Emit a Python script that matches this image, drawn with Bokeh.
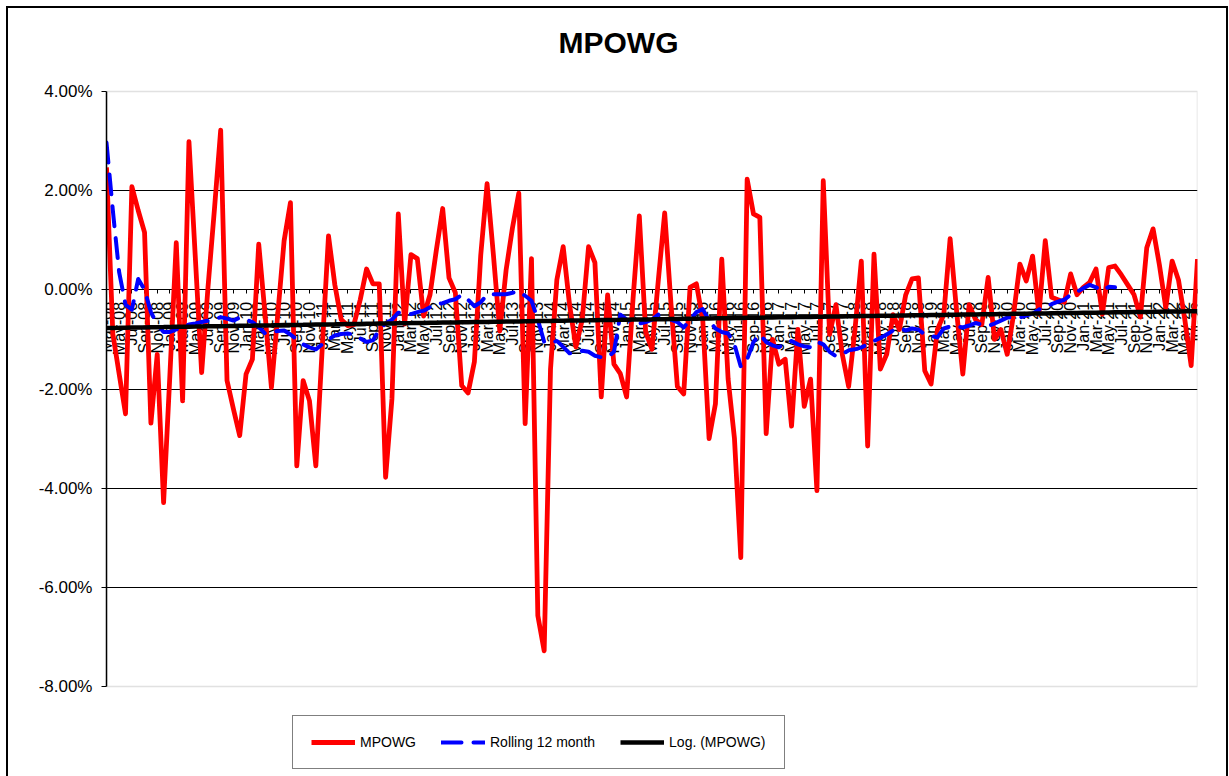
import numpy as np
from datetime import date
from bokeh.plotting import figure
from bokeh.models import (LinearAxis, FixedTicker, PrintfTickFormatter, Legend,
                          LegendItem, Range1d, BoxAnnotation, Label)
from bokeh.embed import file_html
from bokeh.resources import INLINE

# ---------------- data ----------------
MONTH_ABBR = ["Jan", "Feb", "Mar", "Apr", "May", "Jun",
              "Jul", "Aug", "Sep", "Oct", "Nov", "Dec"]
first_year, first_month = 2008, 3      # Mar-08
n_months = 173                          # Mar-08 .. Jul-22
months = []
month_dates = []
for k in range(n_months):
    yy = first_year + (first_month - 1 + k) // 12
    mm = (first_month - 1 + k) % 12 + 1
    months.append(f"{MONTH_ABBR[mm - 1]}-{yy % 100:02d}")
    month_dates.append(date(yy, mm, 1))

# MPOWG monthly values (%)
mpowg = [
    2.47, -0.89, -1.70, -2.50, 2.08, 1.60, 1.16, -2.69, -1.30, -4.29,
    -1.70, 0.95, -2.24, 2.99, 0.66, -1.67, 0.05, 1.60, 3.22, -1.83,
    -2.40, -2.94, -1.70, -1.40, 0.92, -0.50, -1.97, -0.50, 0.99, 1.76,
    -3.55, -1.83, -2.24, -3.55, -1.20, 1.09, 0.10, -0.60, -0.72, -0.70,
    -0.20, 0.42, 0.12, 0.12, -3.78, -2.20, 1.53, -0.69, 0.71, 0.63,
    -0.53, -0.10, 0.80, 1.64, 0.24, -0.06, -1.93, -2.08, -1.45, 0.70,
    2.14, 0.70, -0.83, 0.40, 1.25, 1.95, -2.70, 0.63, -6.57, -7.28,
    -1.60, 0.20, 0.87, -0.30, -1.15, -0.60, 0.87, 0.55, -2.16, -0.10,
    -1.50, -1.69, -2.16, -0.20, 1.49, -0.85, -1.20, 0.20, 1.55, -0.30,
    -1.95, -2.10, 0.05, 0.12, -0.60, -3.00, -2.30, 0.62, -1.80, -3.00,
    -5.40, 2.23, 1.53, 1.46, -2.90, -1.00, -1.50, -1.40, -2.75, -0.80,
    -2.35, -1.80, -4.05, 2.20, -0.90, -0.30, -1.30, -1.95, -0.80, 0.58,
    -3.15, 0.72, -1.60, -1.30, -0.50, -0.80, -0.10, 0.22, 0.24, -1.63,
    -1.90, -0.80, -0.50, 1.03, -0.40, -1.70, -0.30, -0.60, -0.70, 0.25,
    -1.00, -0.80, -1.30, -0.50, 0.52, 0.18, 0.68, -0.49, 0.99, -0.15,
    -0.20, -0.25, 0.32, -0.10, 0.05, 0.15, 0.42, -0.49, 0.45, 0.48,
    0.30, 0.10, -0.10, -0.55, 0.85, 1.23, 0.50, -0.36, 0.58, 0.20,
    -0.60, -1.53, 0.62,
]

# Rolling 12 month (%) - ends earlier than MPOWG
rolling = [
    2.97, 1.60, 0.35, -0.30, -0.40, 0.22, 0.00, -0.45, -0.70, -0.85,
    -0.85, -0.80, -0.75, -0.70, -0.68, -0.65, -0.62, -0.60, -0.55, -0.58,
    -0.62, -0.56, -0.60, -0.65, -0.75, -0.88, -0.85, -0.83, -0.82, -0.90,
    -1.00, -1.10, -1.16, -1.20, -1.10, -1.00, -0.92, -0.89, -0.88, -0.90,
    -0.98, -1.05, -1.02, -0.80, -0.68, -0.60, -0.46, -0.48, -0.49, -0.45,
    -0.42, -0.35, -0.29, -0.27, -0.22, -0.19, -0.10, -0.20, -0.33, -0.25,
    -0.10, -0.09, -0.09, -0.09, -0.06, -0.03, -0.12, -0.22, -0.60, -1.05,
    -1.08, -1.03, -1.15, -1.28, -1.27, -1.23, -1.25, -1.33, -1.36, -1.36,
    -1.25, -0.50, -0.60, -0.65, -0.68, -0.65, -0.60, -0.50, -0.55, -0.60,
    -0.65, -0.76, -0.60, -0.45, -0.39, -0.62, -0.78, -0.85, -0.88, -1.10,
    -1.55, -1.40, -1.05, -0.90, -1.05, -1.12, -1.16, -1.08, -1.03, -1.10,
    -1.14, -1.16, -1.05, -1.10, -1.25, -1.34, -1.30, -1.22, -1.20, -1.16,
    -1.10, -1.03, -0.97, -0.90, -0.82, -0.78, -0.82, -0.78, -0.80, -0.90,
    -0.93, -0.96, -0.78, -0.74, -0.73, -0.76, -0.72, -0.67, -0.70, -0.73,
    -0.68, -0.62, -0.56, -0.56, -0.56, -0.52, -0.48, -0.40, -0.33, -0.29,
    -0.24, -0.20, -0.10, -0.04, 0.03, 0.10, 0.05, -0.02, 0.06, 0.05,
]

# Log. (MPOWG) trendline at its two ends (%)
trend_first = -0.77
trend_last = -0.43

y_ticks = [-8, -6, -4, -2, 0, 2, 4]
y_min, y_max = -8, 4
chart_title = "MPOWG"

# ---------------- derived ----------------
x_idx = np.arange(n_months)
serial = np.array([(d - date(1899, 12, 30)).days for d in month_dates], dtype=float)
ls = np.log(serial)
a = (trend_last - trend_first) / (ls[-1] - ls[0])
b = trend_first - a * ls[0]
trend = a * ls + b

FONT = "Liberation Sans"

# layout (pixels)
W, H = 1229, 776
area_left, area_right, area_top, area_bottom = 106, 1197, 91, 686
title_cx, title_cy = 618, 42
px_per_unit = (area_bottom - area_top) / (y_max - y_min)
px_per_month = (area_right - area_left) / (n_months - 1)
# the frame spans the full canvas height so title and legend can live inside it
frame_y_low = y_min - (H - area_bottom) / px_per_unit
frame_y_high = y_max + area_top / px_per_unit

p = figure(width=W, height=H, output_backend="svg", toolbar_location=None,
           x_range=Range1d(0, n_months - 1),
           y_range=Range1d(frame_y_low, frame_y_high),
           x_axis_location=None, y_axis_location="left",
           min_border_left=area_left, min_border_right=W - area_right,
           min_border_top=0, min_border_bottom=0)
# outer chart border (left, top, right)
p.styles = {"box-shadow": ("inset 6px 6px 0 0 #fff, inset -1px 0 0 0 #fff, "
                           "inset 8px 8px 0 0 #000, inset -3px 0 0 0 #000")}

p.background_fill_alpha = 0
p.border_fill_alpha = 0
p.outline_line_color = None

# title
p.add_layout(Label(x=(title_cx - area_left) / px_per_month,
                   y=y_max + (area_top - title_cy) / px_per_unit,
                   text=chart_title, text_align="center", text_baseline="middle",
                   text_font=FONT, text_font_size="30px", text_font_style="bold",
                   text_color="black"))

# plot-area border
p.add_layout(BoxAnnotation(left=0, right=n_months - 1, bottom=y_min, top=y_max,
                           fill_alpha=0, line_color="#9a9a9a", line_width=1.5,
                           level="underlay"))

# y axis
yax = p.yaxis[0]
yax.bounds = (y_min, y_max)
yax.ticker = FixedTicker(ticks=y_ticks)
yax.formatter = PrintfTickFormatter(format="%.2f%%")
yax.major_label_text_font = FONT
yax.major_label_text_font_size = "17px"
yax.major_label_text_color = "black"
yax.axis_line_color = "black"
yax.axis_line_width = 1.5
yax.major_tick_out = 5
yax.major_tick_in = 0
yax.major_tick_line_color = "black"
yax.minor_tick_out = 0
yax.minor_tick_in = 0
yax.major_label_standoff = 9

p.xgrid.visible = False
p.ygrid.ticker = FixedTicker(ticks=[t for t in y_ticks if y_min < t < y_max])
p.ygrid.grid_line_color = "black"
p.ygrid.grid_line_width = 1.2

# category axis crossing at 0
tick_idx = list(range(0, n_months, 2))
xax = LinearAxis(fixed_location=0,
                 ticker=FixedTicker(ticks=tick_idx),
                 major_label_overrides={int(i): months[i] for i in tick_idx},
                 major_label_orientation=np.pi / 2,
                 major_label_text_font=FONT,
                 major_label_text_font_size="16px",
                 major_label_text_color="black",
                 major_label_standoff=8,
                 major_tick_out=4, major_tick_in=0,
                 major_tick_line_color="black",
                 minor_tick_out=0, minor_tick_in=0,
                 axis_line_color="black", axis_line_width=1.2,
                 level="underlay")
p.add_layout(xax, "below")

r_red = p.line(x_idx, mpowg, line_color="#FF0000", line_width=4.8, line_join="round")
r_blue = p.line(x_idx[:len(rolling)], rolling, line_color="#0000FF", line_width=4,
                line_dash="20 12", line_cap="round", line_join="round")
r_black = p.line(x_idx, trend, line_color="black", line_width=4.5)

legend = Legend(items=[LegendItem(label="MPOWG", renderers=[r_red]),
                       LegendItem(label="Rolling 12 month", renderers=[r_blue]),
                       LegendItem(label="Log. (MPOWG)", renderers=[r_black])],
                orientation="horizontal", location=(292 - area_left, 7))
legend.label_text_font = FONT
legend.label_text_font_size = "14px"
legend.label_text_color = "black"
legend.glyph_width = 44
legend.glyph_height = 16
legend.label_standoff = 5
legend.spacing = 25
legend.padding = 18
legend.margin = 0
legend.border_line_color = "black"
legend.border_line_width = 1
legend.background_fill_color = "white"
legend.background_fill_alpha = 1
p.add_layout(legend, "center")

open("out.html", "w").write(file_html(p, INLINE))
